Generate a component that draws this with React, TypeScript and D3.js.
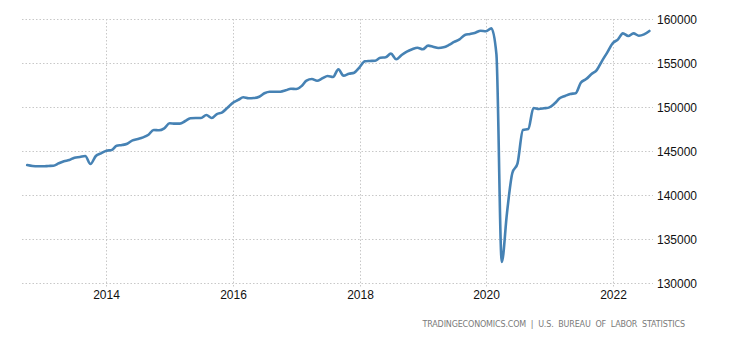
import React from "react";
import * as d3 from "d3";

const startMonth = "2012-10";
const values: number[] = [
  143410, 143300, 143260,
  143260, 143300, 143330, 143600, 143830, 143980, 144240, 144320, 144430, 143520, 144430, 144740,
  145040, 145110, 145600, 145680, 145830, 146210, 146360, 146550, 146850, 147390, 147350, 147580,
  148150, 148110, 148110, 148410, 148720, 148750, 148750, 149090, 148750, 149200, 149390, 149920,
  150490, 150800, 151100, 150990, 151020, 151170, 151560, 151740, 151740, 151740, 151890, 152080,
  152040, 152390, 152990, 153180, 152990, 153260, 153520, 153410, 154280, 153560, 153780, 153900,
  154510, 155190, 155230, 155260, 155600, 155660, 156060, 155420, 155910, 156290, 156560, 156740,
  156560, 156970, 156850, 156700, 156780, 157050, 157390, 157690, 158180, 158300, 158450, 158670,
  158600, 158940, 156000, 132380, 137950, 142500, 143600, 147380, 147500, 149890, 149770, 149850,
  149960, 150420, 150990, 151250, 151480, 151560, 152750, 153170, 153740, 154190, 155250, 156200,
  157240, 157690, 158370, 158070, 158370, 158100, 158250, 158640,
];
const yTicks = [130000, 135000, 140000, 145000, 150000, 155000, 160000];
const xTickYears = [2014, 2016, 2018, 2020, 2022];
const sourceText = "TRADINGECONOMICS.COM  |  U.S.  BUREAU  OF  LABOR  STATISTICS";

const parse = d3.timeParse("%Y-%m");
const start = parse(startMonth)!;
const data = values.map((v, i) => ({ date: d3.timeMonth.offset(start, i), value: v }));

export default function App() {
  const W = 730, H = 340;
  const plotLeft = 22, plotRight = 653;
  const x = d3
    .scaleTime()
    .domain([data[0].date, data[data.length - 1].date])
    .range([27.2, 649.4]);
  const y = d3.scaleLinear().domain([130000, 160000]).range([283, 19]);
  const line = d3
    .line<{ date: Date; value: number }>()
    .x((d) => x(d.date))
    .y((d) => y(d.value))
    .curve(d3.curveMonotoneX);

  return (
    <svg
      width={W}
      height={H}
      style={{ position: "absolute", left: 0, top: 0, background: "#fff" }}
    >
      {yTicks.map((t) => (
        <g key={t}>
          <line
            x1={plotLeft}
            x2={plotRight}
            y1={y(t) + 0.5}
            y2={y(t) + 0.5}
            stroke="#c8c8c8"
            strokeDasharray="1.5,2"
          />
          <text
            x={657}
            y={y(t) + 5}
            fontFamily="'Liberation Sans', Arial, sans-serif"
            fontSize={12}
            fill="#111"
          >
            {t}
          </text>
        </g>
      ))}
      {xTickYears.map((yr) => {
        const xx = Math.round(x(new Date(yr, 0, 1))) + 0.5;
        return (
          <g key={yr}>
            <line
              x1={xx}
              x2={xx}
              y1={19}
              y2={288}
              stroke="#c8c8c8"
              strokeDasharray="1.5,2"
            />
            <text
              x={xx}
              y={299}
              textAnchor="middle"
              fontFamily="'Liberation Sans', Arial, sans-serif"
              fontSize={12}
              fill="#111"
            >
              {yr}
            </text>
          </g>
        );
      })}
      <path
        d={line(data) || ""}
        fill="none"
        stroke="#4682b4"
        strokeWidth={2.6}
        strokeLinejoin="round"
        strokeLinecap="round"
      />
      <text
        x={422.5}
        y={327}
        fontFamily="'DejaVu Sans', Verdana, sans-serif"
        fontSize={8}
        fill="#7a7a7a"
        textLength={262.5}
        lengthAdjust="spacing"
        style={{ whiteSpace: "pre" }}
      >
        {sourceText}
      </text>
    </svg>
  );
}
